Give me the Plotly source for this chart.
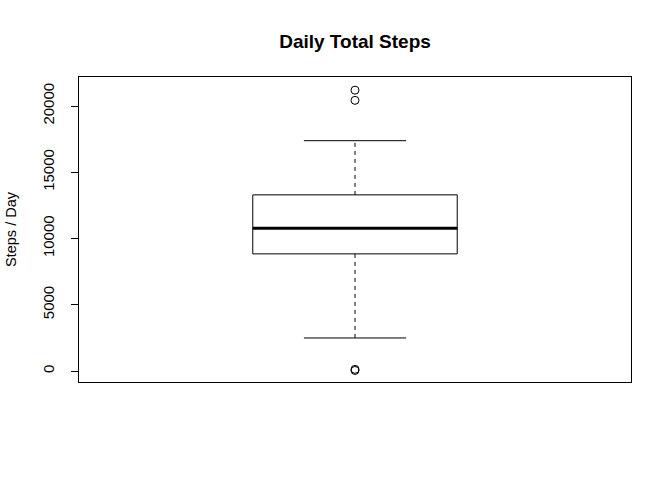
import plotly.graph_objects as go

# Summary statistics of daily total steps (R boxplot, fivenum hinges)
lower_whisker = [2492]
q1 = [8841]
median = [10765]
q3 = [13294]
upper_whisker = [17382]
outliers = [41, 126, 20427, 21194]
y_ticks = [0, 5000, 10000, 15000, 20000]

pos = 1.0
half_box = 0.2
half_staple = 0.1

fig = go.Figure()
line = dict(color="black", width=1)

# box
fig.add_trace(go.Scatter(
    x=[pos - half_box, pos + half_box, pos + half_box, pos - half_box, pos - half_box],
    y=[q1[0], q1[0], q3[0], q3[0], q1[0]],
    mode="lines", line=line, hoverinfo="skip"))
# median
fig.add_trace(go.Scatter(x=[pos - half_box, pos + half_box], y=[median[0], median[0]],
                         mode="lines", line=dict(color="black", width=3), hoverinfo="skip"))
# whiskers (dashed)
fig.add_trace(go.Scatter(x=[pos, pos], y=[q3[0], upper_whisker[0]], mode="lines",
                         line=dict(color="black", width=1, dash="4px,4px"), hoverinfo="skip"))
fig.add_trace(go.Scatter(x=[pos, pos], y=[q1[0], lower_whisker[0]], mode="lines",
                         line=dict(color="black", width=1, dash="4px,4px"), hoverinfo="skip"))
# staples
fig.add_trace(go.Scatter(x=[pos - half_staple, pos + half_staple], y=[upper_whisker[0]] * 2,
                         mode="lines", line=line, hoverinfo="skip"))
fig.add_trace(go.Scatter(x=[pos - half_staple, pos + half_staple], y=[lower_whisker[0]] * 2,
                         mode="lines", line=line, hoverinfo="skip"))
# outliers
fig.add_trace(go.Scatter(x=[pos] * len(outliers), y=outliers, mode="markers",
                         marker=dict(symbol="circle-open", size=8, color="black",
                                     line=dict(width=1, color="black"))))

fig.update_layout(
    width=672, height=480,
    margin=dict(l=79, r=41, t=77, b=98),
    paper_bgcolor="white", plot_bgcolor="white",
    showlegend=False,
    font=dict(family="Liberation Sans, Arial, Helvetica, sans-serif", size=15, color="black"),
    title=dict(text="<b>Daily Total Steps</b>", x=0.5, xref="paper",
               y=1 - 41 / 480, yref="container", yanchor="middle",
               font=dict(size=19, color="black")),
    xaxis=dict(range=[0.46, 1.54], showgrid=False, zeroline=False, showticklabels=False,
               ticks="", showline=True, mirror=True, linecolor="black", linewidth=1),
    yaxis=dict(range=[-830, 22189], showgrid=False, zeroline=False,
               tickvals=y_ticks, ticktext=[str(v) for v in y_ticks],
               tickangle=-90, ticks="outside", ticklen=7, tickcolor="black", tickwidth=1,
               ticklabelstandoff=11,
               showline=True, mirror=True, linecolor="black", linewidth=1,
               title=dict(text="Steps / Day", standoff=19, font=dict(size=14.5))),
)

fig.write_html("out.html")
